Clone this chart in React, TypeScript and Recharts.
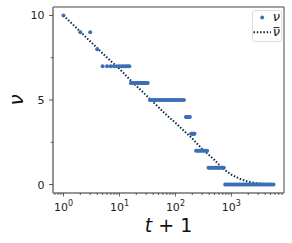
import { ComposedChart, Line, Scatter, XAxis, YAxis, ReferenceArea, Label } from 'recharts'

// nu (observed) — levels and the t+1 values at which each level is seen
const nuLevels = [10, 9, 8, 7, 6, 5, 4, 3, 2, 1, 0]
const nuTimes = [
  [1],
  [2, 3],
  [4],
  [5, 6, 7, 8, 9, 10, 11, 12, 13, 14, 15],
  [16, 17, 18, 19, 20, 21, 22, 23, 24, 25, 26, 27, 28, 29, 30, 31, 32],
  [35, 38, 41, 44, 48, 52, 56, 60, 65, 70, 76, 82, 89, 96, 104, 112, 121, 131, 142],
  [154, 160, 167, 174, 181],
  [191, 198, 205, 212, 219],
  [234, 250, 267, 285, 304, 325, 346, 369],
  [390, 415, 442, 470, 500, 532, 566, 602, 641, 685, 732],
  [775, 830, 890, 950, 1020, 1090, 1170, 1250, 1340, 1430, 1530, 1640, 1760, 1880, 2010, 2150,
    2300, 2470, 2640, 2830, 3030, 3240, 3470, 3710, 3970, 4250, 4550, 4870, 5210, 5650],
]

// nu-bar (mean)
const barTimes = [1, 2, 3, 5, 7, 10, 15, 20, 30, 50, 70, 100, 150, 200, 300, 500, 700, 1000, 1500, 2000, 3000, 4200]
const barValues = [10, 9.04, 8.47, 7.76, 7.3, 6.85, 6.24, 5.84, 5.28, 4.57, 4.1, 3.65, 3.1, 2.72, 2.1, 1.45, 0.95, 0.58, 0.3, 0.17, 0.06, 0.02]

const xMajor = [1, 10, 100, 1000]
const xMajorExp = ['0', '1', '2', '3']
const xMinor = [0.7, 0.8, 0.9, 2, 3, 4, 5, 6, 7, 8, 9, 20, 30, 40, 50, 60, 70, 80, 90,
  200, 300, 400, 500, 600, 700, 800, 900, 2000, 3000, 4000, 5000, 6000, 7000, 8000]
const yMajor = [0, 5, 10]
const yMinor = [2.5, 7.5]

const nuData = nuLevels.flatMap((lvl, i) => nuTimes[i].map((t) => ({ x: t, y: lvl })))
const barData = barTimes.map((t, i) => ({ x: t, v: barValues[i] }))

const FONT = '"DejaVu Sans", sans-serif'
const DOT = '#3b6fb6'
const NAVY = '#0e2a47'

function XTick({ x, y, payload }: any) {
  const i = xMajor.indexOf(payload.value)
  const major = i >= 0
  return (
    <g>
      <line x1={x} x2={x} y1={y} y2={y + (major ? 3.5 : 2)} stroke="#333" strokeWidth={0.8} />
      {major && (
        <text x={x} y={y + 17.5} textAnchor="middle" fontSize={11} fontFamily={FONT} fill="#222">
          10<tspan dy={-5} fontSize={8}>{xMajorExp[i]}</tspan>
        </text>
      )}
    </g>
  )
}

function YTick({ x, y, payload }: any) {
  const major = yMajor.includes(payload.value)
  return (
    <g>
      <line x1={x - (major ? 4 : 2.3)} x2={x} y1={y} y2={y} stroke="#333" strokeWidth={0.8} />
      {major && (
        <text x={x - 8.5} y={y} dy="0.36em" textAnchor="end" fontSize={11} fontFamily={FONT} fill="#222">
          {payload.value}
        </text>
      )}
    </g>
  )
}

export default function App() {
  return (
    <div style={{ position: 'absolute', left: 0, top: 0, width: 292, height: 243, background: '#fff' }}>
      <ComposedChart width={292} height={243} margin={{ top: 7, right: 8, bottom: 0, left: 0 }}>
        <XAxis
          dataKey="x"
          type="number"
          scale="log"
          domain={[0.65, 8700]}
          allowDataOverflow
          ticks={[...xMajor, ...xMinor].sort((a, b) => a - b)}
          interval={0}
          height={50}
          tickSize={0}
          tickMargin={0}
          tickLine={false}
          axisLine={{ stroke: '#888', strokeWidth: 1 }}
          tick={<XTick />}
        >
          <Label
            content={() => (
              <text x={168.5} y={232} textAnchor="middle" fontSize={19} fontFamily={FONT} fill="#111">
                <tspan fontStyle="italic">t</tspan> + 1
              </text>
            )}
          />
        </XAxis>
        <YAxis
          type="number"
          domain={[-0.5, 10.5]}
          allowDataOverflow
          ticks={[0, 2.5, 5, 7.5, 10]}
          interval={0}
          width={53}
          tickSize={0}
          tickMargin={0}
          tickLine={false}
          axisLine={{ stroke: '#888', strokeWidth: 1 }}
          tick={<YTick />}
        >
          <Label
            content={() => (
              <text x={23} y={100} transform="rotate(-90 23 100)" textAnchor="middle" fontSize={20}
                fontStyle="italic" fontFamily={FONT} fill="#111">
                ν
              </text>
            )}
          />
        </YAxis>
        <ReferenceArea x1={0.65} x2={8700} y1={-0.5} y2={10.5} fill="none" stroke="#444" strokeWidth={1} ifOverflow="visible" />
        <Scatter
          data={nuData}
          dataKey="y"
          isAnimationActive={false}
          shape={(p: any) => <circle cx={p.cx} cy={p.cy} r={2} fill={DOT} />}
        />
        <Line
          data={barData}
          dataKey="v"
          type="linear"
          stroke={NAVY}
          strokeWidth={2}
          strokeDasharray="1.5 1.8"
          dot={false}
          activeDot={false}
          isAnimationActive={false}
        />
      </ComposedChart>
      <div
        style={{
          position: 'absolute', left: 251.5, top: 10, width: 30, height: 32, boxSizing: 'border-box',
          border: '1px solid #ddd', borderRadius: 3, background: 'rgba(255,255,255,0.85)',
        }}
      >
        <svg width={30} height={32} style={{ position: 'absolute', left: -1, top: -1 }}>
          <circle cx={10.2} cy={7.5} r={1.9} fill={DOT} />
          <text x={24.5} y={11} textAnchor="middle" fontSize={13} fontStyle="italic" fontFamily={FONT} fill="#111">ν</text>
          <line x1={1.5} x2={19} y1={22.3} y2={22.3} stroke={NAVY} strokeWidth={2} strokeDasharray="1.5 1.8" />
          {/* overline of the mean symbol */}
          <line x1={21.5} x2={27.5} y1={17.6} y2={17.6} stroke="#111" strokeWidth={0.9} />
          <text x={24.5} y={26} textAnchor="middle" fontSize={13} fontStyle="italic" fontFamily={FONT} fill="#111">ν</text>
        </svg>
      </div>
    </div>
  )
}
